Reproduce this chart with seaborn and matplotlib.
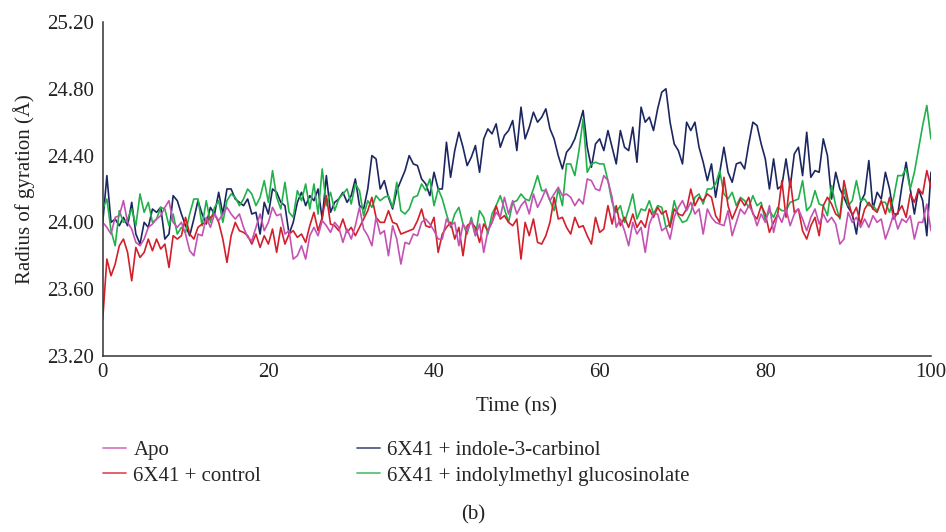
import numpy as np
import pandas as pd
import seaborn as sns
import matplotlib.pyplot as plt
from matplotlib.lines import Line2D

# time axis, one frame every 0.5 ns
time_ns = np.arange(0, 100.5, 0.5)

apo = [
    24.00, 23.97, 23.93, 24.03, 24.04, 24.13, 24.00, 23.96, 23.88, 23.86, 23.90, 23.97, 23.99, 24.02, 24.04, 24.09, 24.13,
    24.00, 23.97, 24.00, 23.93, 23.83, 23.80, 23.93, 23.92, 24.03, 23.97, 24.05, 24.01, 24.05, 24.09, 24.05, 24.02, 24.05,
    23.97, 23.91, 23.89, 23.97, 24.05, 23.95, 24.00, 24.09, 24.04, 24.05, 23.93, 23.95, 23.78, 23.80, 23.86, 23.78, 23.92,
    23.97, 23.92, 24.01, 23.98, 23.94, 24.00, 23.97, 23.88, 23.96, 23.90, 23.98, 24.09, 23.96, 23.92, 23.86, 24.03, 23.93,
    23.95, 23.80, 23.98, 23.90, 23.75, 23.88, 23.87, 23.93, 23.92, 24.00, 24.02, 23.99, 23.95, 23.90, 23.90, 24.02, 23.98,
    24.00, 23.86, 23.99, 23.95, 24.01, 23.92, 23.99, 23.82, 23.95, 24.00, 24.06, 24.03, 24.15, 24.05, 24.13, 24.05, 24.10,
    24.13, 24.05, 24.17, 24.09, 24.14, 24.20, 24.13, 24.17, 24.21, 24.16, 24.17, 24.15, 24.10, 24.14, 24.11, 24.26, 24.25,
    24.20, 24.19, 24.28, 24.25, 24.15, 23.97, 24.02, 23.95, 23.86, 24.00, 23.93, 23.97, 23.82, 23.99, 24.05, 24.05,
    23.95, 23.97, 23.90, 24.03, 24.09, 24.13, 24.07, 24.12, 24.05, 24.08, 23.93, 24.08, 24.03, 24.00, 23.99, 23.98, 24.07,
    23.92, 24.00, 24.08, 24.05, 24.10, 24.06, 23.98, 24.05, 24.00, 24.10, 23.94, 24.05, 24.00, 24.08, 23.98, 24.05, 24.08,
    24.02, 23.95, 24.03, 24.08, 23.99, 24.05, 24.00, 24.03, 23.99, 23.87, 23.90, 24.06, 24.00, 24.03, 23.97, 24.02,
    23.97, 24.04, 24.00, 24.02, 23.90, 23.97, 24.05, 23.96, 24.02, 24.00, 24.04, 23.90, 24.00, 24.00, 24.11, 23.95,
]

control = [
    23.42, 23.78, 23.68, 23.75, 23.86, 23.90, 23.82, 23.65, 23.85, 23.79, 23.82, 23.90, 23.83, 23.90, 23.84, 23.87, 23.73,
    23.92, 23.90, 23.92, 24.03, 23.93, 23.90, 23.97, 23.99, 24.00, 24.03, 24.05, 24.00, 23.90, 23.76, 23.92, 24.00, 23.95,
    23.94, 23.92, 23.87, 23.93, 23.85, 23.92, 23.87, 23.96, 23.82, 23.97, 23.87, 23.93, 23.95, 23.91, 23.93, 23.88, 23.98,
    24.06, 23.95, 24.03, 24.16, 23.99, 23.98, 23.95, 24.02, 23.94, 23.97, 23.92, 23.97, 24.02, 24.07, 24.15, 24.03, 24.00,
    24.00, 24.07, 24.00, 23.99, 23.93, 23.94, 23.95, 23.96, 24.01, 24.08, 23.98, 23.97, 24.03, 23.82, 23.93, 23.97, 24.00,
    23.90, 23.97, 23.80, 23.98, 24.00, 23.97, 23.88, 23.99, 23.95, 24.00, 24.10, 24.02, 24.04, 24.00, 23.98, 24.02, 23.78,
    24.00, 23.92, 24.02, 23.88, 23.87, 23.92, 24.00, 24.15, 24.02, 24.03, 23.97, 23.93, 24.03, 23.97, 23.98, 23.92, 23.87,
    24.03, 23.94, 23.96, 24.10, 23.99, 24.10, 23.98, 24.03, 23.97, 24.05, 23.97, 24.01, 23.97, 24.08, 24.03, 24.09,
    24.05, 24.07, 23.97, 24.08, 24.05, 24.04, 24.08, 24.20, 24.10, 24.15, 24.13, 24.17, 24.15, 24.04, 24.00, 24.27, 24.10,
    24.02, 24.08, 24.14, 24.10, 24.15, 24.05, 24.02, 24.10, 24.05, 23.94, 24.00, 24.05, 24.25, 24.03, 24.26, 24.06, 24.08,
    23.95, 23.90, 23.98, 24.03, 23.92, 24.10, 24.15, 24.11, 24.05, 24.03, 24.25, 24.13, 24.04, 24.09, 23.99, 24.08,
    24.12, 24.08, 24.06, 24.13, 24.05, 24.15, 24.02, 24.06, 24.10, 24.03, 24.17, 24.12, 24.20, 24.17, 24.31, 24.21,
]

indole = [
    24.00, 24.28, 24.00, 24.02, 23.98, 24.03, 23.98, 24.12, 23.93, 23.87, 24.00, 23.97, 24.08, 24.06, 24.09, 23.90, 23.93,
    24.16, 24.13, 24.05, 23.98, 23.92, 24.02, 24.13, 24.05, 23.99, 24.09, 24.05, 24.18, 24.05, 24.20, 24.20, 24.14, 24.12,
    24.10, 24.14, 24.05, 24.06, 23.93, 24.12, 24.05, 24.20, 24.18, 24.12, 24.10, 23.93, 24.00, 24.12, 24.18, 24.10, 24.16,
    24.13, 24.20, 24.02, 24.28, 24.06, 24.12, 24.14, 24.18, 24.12, 24.16, 24.26, 24.10, 24.08, 24.20, 24.40, 24.38, 24.20,
    24.25, 24.15, 24.08, 24.19, 24.25, 24.31, 24.40, 24.35, 24.34, 24.26, 24.23, 24.16, 24.30, 24.20, 24.20, 24.48, 24.27,
    24.43, 24.54, 24.45, 24.34, 24.39, 24.46, 24.30, 24.50, 24.56, 24.53, 24.59, 24.45, 24.52, 24.55, 24.61, 24.43, 24.69,
    24.50, 24.57, 24.66, 24.60, 24.63, 24.68, 24.56, 24.50, 24.40, 24.32, 24.42, 24.45, 24.50, 24.58, 24.67, 24.45, 24.33,
    24.47, 24.50, 24.43, 24.55, 24.45, 24.35, 24.55, 24.45, 24.43, 24.57, 24.36, 24.69, 24.60, 24.63, 24.55, 24.68,
    24.78, 24.80, 24.60, 24.47, 24.43, 24.35, 24.60, 24.55, 24.60, 24.45, 24.36, 24.25, 24.35, 24.15, 24.30, 24.45, 24.30,
    24.24, 24.35, 24.36, 24.32, 24.47, 24.60, 24.58, 24.47, 24.38, 24.20, 24.38, 24.20, 24.22, 24.38, 24.21, 24.41, 24.45,
    24.28, 24.54, 24.27, 24.31, 24.30, 24.50, 24.40, 24.14, 24.30, 24.20, 24.15, 24.09, 24.05, 23.93, 24.12, 24.17,
    24.37, 24.08, 24.18, 24.14, 24.30, 24.20, 24.05, 24.05, 24.22, 24.36, 24.20, 24.05, 24.20, 24.13, 23.92, 24.30,
]

glucosinolate = [
    24.08, 24.14, 23.95, 23.86, 24.07, 24.00, 24.02, 24.08, 23.98, 24.17, 24.06, 24.12, 24.00, 24.02, 24.09, 24.08, 23.98,
    24.05, 23.93, 23.97, 23.94, 24.05, 24.14, 24.14, 23.98, 24.13, 24.00, 24.09, 24.13, 24.00, 24.13, 24.17, 24.15, 24.10,
    24.14, 24.20, 24.17, 24.10, 24.15, 24.25, 24.12, 24.31, 24.15, 24.08, 24.24, 24.06, 24.03, 24.19, 24.13, 24.23, 24.08,
    24.23, 24.05, 24.32, 24.10, 24.18, 24.07, 24.14, 24.17, 24.20, 24.11, 24.23, 24.19, 24.04, 24.13, 24.09, 24.16, 24.13,
    24.15, 24.16, 24.09, 24.24, 24.07, 24.05, 24.08, 24.15, 24.16, 24.23, 24.19, 24.26, 24.10, 24.20, 24.14, 24.05, 23.97,
    24.05, 24.09, 23.99, 23.93, 24.03, 23.92, 24.07, 24.03, 23.93, 24.05, 24.10, 24.16, 24.08, 24.00, 24.12, 24.13, 24.17,
    24.14, 24.13, 24.20, 24.28, 24.19, 24.19, 24.13, 24.07, 24.20, 24.10, 24.35, 24.35, 24.28, 24.43, 24.62, 24.30, 24.35,
    24.36, 24.35, 24.35, 24.25, 24.12, 24.06, 24.10, 24.00, 24.08, 24.17, 24.02, 24.08, 24.07, 24.13, 24.05, 24.10,
    24.09, 23.97, 23.99, 24.13, 24.04, 24.00, 24.01, 24.06, 24.15, 24.17, 24.11, 24.20, 24.20, 24.23, 24.31, 24.17, 24.14,
    24.18, 24.10, 24.15, 24.13, 24.09, 24.16, 24.10, 24.12, 24.01, 24.07, 24.03, 24.09, 24.07, 24.07, 24.12, 24.13, 24.14,
    24.25, 24.07, 24.10, 24.19, 24.11, 24.10, 24.04, 24.22, 24.10, 24.02, 24.20, 24.10, 24.13, 24.25, 24.13, 24.14,
    24.10, 24.10, 24.07, 24.12, 24.12, 24.06, 24.15, 24.28, 24.28, 24.32, 24.20, 24.30, 24.44, 24.58, 24.70, 24.50,
]

labels = ["Apo", "6X41 + control", "6X41 + indole-3-carbinol", "6X41 + indolylmethyl glucosinolate"]
colours = ["#c452b3", "#d21f2b", "#1c2760", "#21b14b"]

df = pd.DataFrame({
    "Time (ns)": np.tile(time_ns, 4),
    "Rg": np.concatenate([apo, control, indole, glucosinolate]),
    "Series": np.repeat(labels, len(time_ns)),
})

sns.set_style("white")
plt.rcParams["font.family"] = ["Liberation Serif", "DejaVu Serif"]
fs = 15

fig = plt.figure(figsize=(9.46, 5.32), dpi=100)
ax = fig.add_axes([0.1086, 0.331, 0.8755, 0.6276])

palette = dict(zip(labels, colours))
# navy underneath, then the others
draw_order = [labels[2], labels[3], labels[1], labels[0]]
sns.lineplot(data=df, x="Time (ns)", y="Rg", hue="Series", hue_order=draw_order,
             palette=palette, linewidth=1.2, legend=False, ax=ax)

ax.set_xlim(0, 100)
ax.set_ylim(23.2, 25.2)
ax.set_xticks([0, 20, 40, 60, 80, 100])
ax.set_yticks([23.2, 23.6, 24.0, 24.4, 24.8, 25.2])
ax.yaxis.set_major_formatter(plt.FormatStrFormatter("%.2f"))
ax.tick_params(direction="in", length=6, width=1, colors="#333333", labelcolor="#222222",
               labelsize=fs)
ax.tick_params(axis="x", pad=5)
ax.tick_params(axis="y", pad=6)
sns.despine(ax=ax)
for s in ["left", "bottom"]:
    ax.spines[s].set_color("#333333")
    ax.spines[s].set_linewidth(1.1)

ax.set_xlabel("Time (ns)", fontsize=fs, color="#222222", labelpad=11)
ax.set_ylabel("Radius of gyration (Å)", fontsize=fs, color="#222222", labelpad=9)

handles = [Line2D([], [], color=c, lw=1.3, alpha=0.75) for c in colours]
fig.legend(handles, labels, loc="upper left", bbox_to_anchor=(0.109, 0.1725), ncol=2,
           frameon=False, fontsize=fs, handlelength=1.1, handletextpad=0.35,
           columnspacing=4.6, labelspacing=0.3, borderpad=0, borderaxespad=0)

fig.text(0.5, 0.033, "(b)", ha="center", va="center", fontsize=fs, color="#222222")

fig.savefig("out.png", dpi=100)
